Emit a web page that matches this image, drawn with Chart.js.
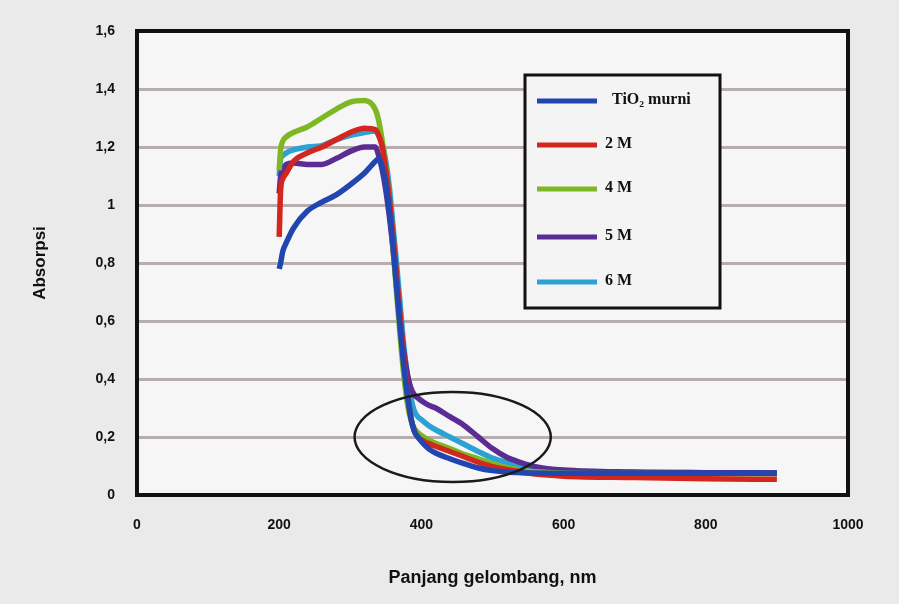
<!DOCTYPE html>
<html>
<head>
<meta charset="utf-8">
<script src="https://cdn.jsdelivr.net/npm/chart.js@4.4.1/dist/chart.umd.min.js"></script>
<style>
html, body {margin: 0; padding: 0; background: #eaeaea}
#wrap {width: 899px; height: 604px}
</style>
</head>
<body>
<div id="wrap"><canvas id="byAbs"></canvas></div>
<script>
// panjang gelombang (nm), shared by every series
const wavelength = [200, 202, 205, 210, 220, 240, 260, 280, 300, 320, 335, 340, 345, 350, 355, 360, 365, 370, 375, 380, 385, 390, 395, 400, 410, 420, 440, 460, 480, 500, 520, 540, 560, 600, 700, 800, 900]

const tio2Murni = [0.78, 0.80, 0.84, 0.87, 0.92, 0.98, 1.01, 1.035, 1.07, 1.11, 1.15, 1.16, 1.13, 1.07, 0.98, 0.86, 0.72, 0.58, 0.45, 0.35, 0.27, 0.22, 0.20, 0.185, 0.16, 0.145, 0.125, 0.108, 0.093, 0.084, 0.079, 0.077, 0.076, 0.075, 0.075, 0.075, 0.075]
const dua = [0.89, 1.05, 1.09, 1.11, 1.15, 1.18, 1.20, 1.225, 1.25, 1.265, 1.26, 1.24, 1.20, 1.12, 1.02, 0.90, 0.76, 0.62, 0.48, 0.36, 0.27, 0.22, 0.20, 0.19, 0.178, 0.168, 0.15, 0.132, 0.113, 0.098, 0.088, 0.08, 0.072, 0.065, 0.06, 0.056, 0.054]
const empat = [1.12, 1.19, 1.22, 1.235, 1.25, 1.27, 1.30, 1.33, 1.355, 1.36, 1.33, 1.29, 1.22, 1.13, 1.01, 0.86, 0.70, 0.55, 0.42, 0.32, 0.26, 0.23, 0.215, 0.205, 0.19, 0.178, 0.16, 0.14, 0.125, 0.108, 0.094, 0.085, 0.08, 0.076, 0.074, 0.073, 0.073]
const lima = [1.04, 1.10, 1.12, 1.14, 1.145, 1.14, 1.14, 1.16, 1.185, 1.20, 1.20, 1.17, 1.12, 1.05, 0.96, 0.85, 0.72, 0.60, 0.50, 0.42, 0.37, 0.345, 0.335, 0.325, 0.31, 0.30, 0.27, 0.24, 0.20, 0.16, 0.13, 0.112, 0.098, 0.086, 0.079, 0.077, 0.076]
const enam = [1.10, 1.16, 1.17, 1.18, 1.19, 1.20, 1.205, 1.225, 1.24, 1.25, 1.255, 1.24, 1.21, 1.15, 1.06, 0.93, 0.80, 0.66, 0.52, 0.42, 0.34, 0.29, 0.27, 0.26, 0.24, 0.225, 0.20, 0.175, 0.15, 0.127, 0.112, 0.1, 0.092, 0.084, 0.078, 0.077, 0.076]

const seriesLabels = ['TiO₂ murni', '2 M', '4 M', '5 M', '6 M']
const seriesValues = [tio2Murni, dua, empat, lima, enam]
const seriesColors = ['#2146b0', '#d3261f', '#7db824', '#5a2c94', '#2ba2d4']

// the hand-drawn circle around the tail (centre and radii in data units)
const ringCentre = [444, 0.2]
const ringRadius = [138, 0.155]

const fmt = v => String(Math.round(v * 10) / 10).replace('.', ',')

const framePlugin = {
  id: 'frame',
  beforeDraw(chart) {
    const {ctx, chartArea: a} = chart
    ctx.save()
    ctx.fillStyle = '#eaeaea'
    ctx.fillRect(0, 0, chart.width, chart.height)
    ctx.fillStyle = '#f6f6f6'
    ctx.fillRect(a.left, a.top, a.right - a.left, a.bottom - a.top)
    ctx.restore()
  },
  afterDatasetsDraw(chart) {
    const {ctx, scales: {x, y}} = chart
    const cx = x.getPixelForValue(ringCentre[0])
    const cy = y.getPixelForValue(ringCentre[1])
    const rx = x.getPixelForValue(ringCentre[0] + ringRadius[0]) - cx
    const ry = cy - y.getPixelForValue(ringCentre[1] + ringRadius[1])
    ctx.save()
    ctx.strokeStyle = '#1a1a1a'
    ctx.lineWidth = 2.5
    ctx.beginPath()
    ctx.ellipse(cx, cy, rx, ry, 0, 0, Math.PI * 2)
    ctx.stroke()
    ctx.restore()
  },
  afterDraw(chart) {
    const {ctx, chartArea: a} = chart
    ctx.save()
    ctx.strokeStyle = '#111'
    ctx.lineWidth = 4
    ctx.strokeRect(a.left, a.top, a.right - a.left, a.bottom - a.top)

    // legend box
    const lx = a.left + 388, ly = a.top + 44, lw = 195, lh = 233
    ctx.fillStyle = '#f4f4f4'
    ctx.fillRect(lx, ly, lw, lh)
    ctx.lineWidth = 3
    ctx.strokeRect(lx, ly, lw, lh)
    const rows = [26, 70, 114, 162, 207]
    chart.data.datasets.forEach((ds, i) => {
      const ry = ly + rows[i]
      ctx.strokeStyle = ds.borderColor
      ctx.lineWidth = 5
      ctx.beginPath()
      ctx.moveTo(lx + 12, ry)
      ctx.lineTo(lx + 72, ry)
      ctx.stroke()
      ctx.fillStyle = '#111'
      ctx.font = 'bold 16px "Liberation Serif", "DejaVu Serif", serif'
      ctx.textBaseline = 'middle'
      ctx.fillText(ds.label, lx + (i === 0 ? 87 : 80), ry - 1)
    })
    ctx.restore()
  }
}

new Chart(document.getElementById('byAbs'), {
  type: 'line',
  data: {
    datasets: seriesValues.map((vals, i) => ({
      label: seriesLabels[i],
      data: wavelength.map((w, j) => ({x: w, y: vals[j]})),
      borderColor: seriesColors[i],
      backgroundColor: seriesColors[i],
    })),
  },
  options: {
    animation: false,
    responsive: true,
    maintainAspectRatio: false,
    borderWidth: 5.5,
    pointRadius: 0,
    cubicInterpolationMode: 'monotone',
    layout: {padding: {top: 31, right: 51, left: 0, bottom: 0}},
    plugins: {legend: {display: false}, tooltip: {enabled: false}},
    scales: {
      x: {
        type: 'linear', min: 0, max: 1000,
        afterFit: s => { s.height = 109 },
        border: {display: false},
        grid: {display: false, drawTicks: false},
        ticks: {stepSize: 200, padding: 22, color: '#111', font: {family: 'Liberation Sans', weight: 'bold', size: 14}, callback: v => String(v)},
        title: {display: true, text: 'Panjang gelombang, nm', color: '#111', font: {family: 'Liberation Sans', weight: 'bold', size: 18}, padding: {bottom: 15}},
      },
      y: {
        min: 0, max: 1.6,
        afterFit: s => { s.width = 137 },
        border: {display: false},
        grid: {color: '#b6aeac', lineWidth: 3, drawTicks: false},
        ticks: {stepSize: 0.2, padding: 22, color: '#111', font: {family: 'Liberation Sans', weight: 'bold', size: 14}, callback: fmt},
        title: {display: true, text: 'Absorpsi', color: '#111', font: {family: 'Liberation Sans', weight: 'bold', size: 17}, padding: {top: 30}},
      },
    },
  },
  plugins: [framePlugin],
})
</script>
</body>
</html>
